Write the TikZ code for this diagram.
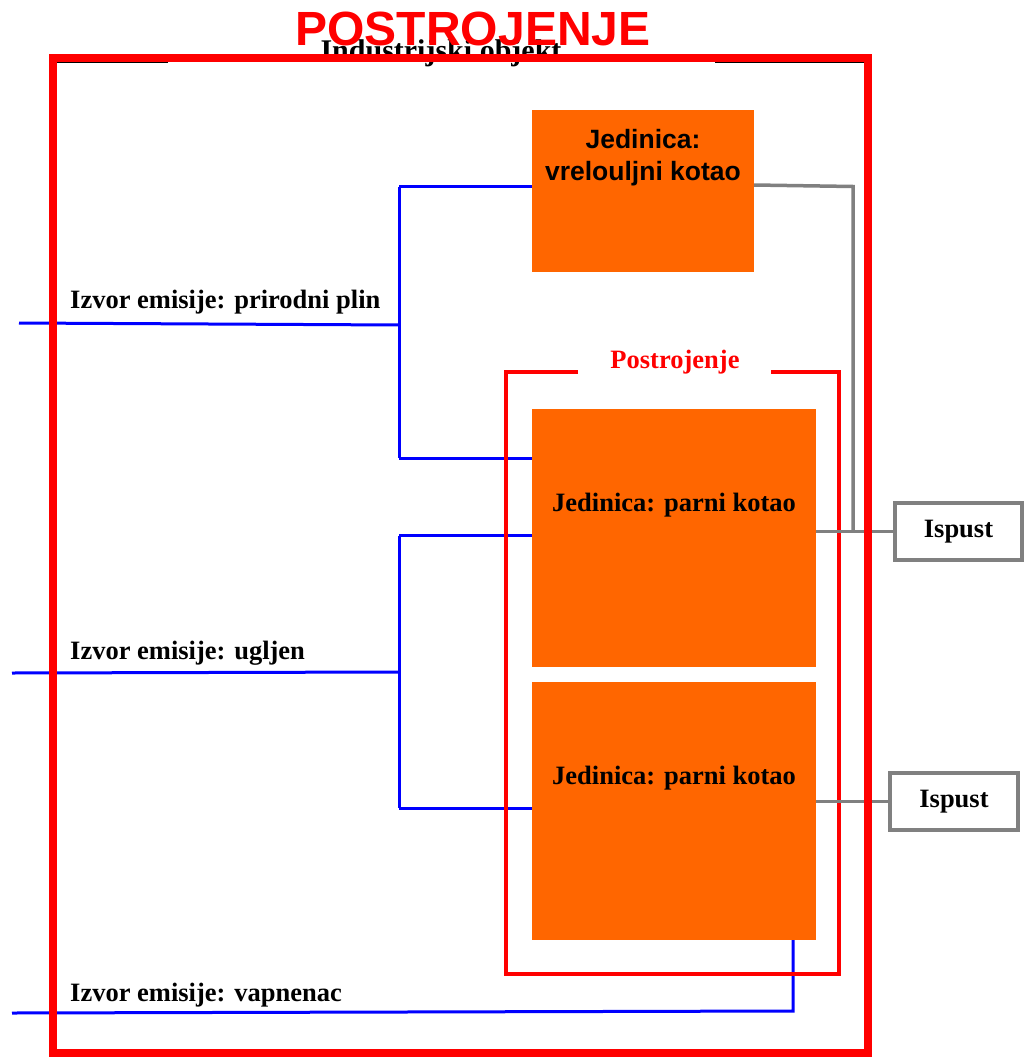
\documentclass[tikz,border=0pt]{standalone}
\usepackage{fontspec}
\setmainfont{Liberation Serif}
\newfontfamily\arialfont{Liberation Sans}
\definecolor{unitorange}{HTML}{FF6600}
\definecolor{linkblue}{HTML}{0000FF}
\definecolor{ventgray}{HTML}{808080}
\definecolor{framered}{HTML}{FF0000}
\begin{document}
\begin{tikzpicture}[x=1pt,y=-1pt,
  unitbox/.style={fill=unitorange, draw=none, inner sep=0pt, outer sep=0pt},
  serifbold/.style={font=\fontsize{26.5}{32}\selectfont\bfseries, inner sep=0pt},
  sansbold/.style={font=\arialfont\fontsize{26.5}{32}\selectfont\bfseries, inner sep=0pt},
  ventbox/.style={draw=ventgray, line width=4pt, fill=white, inner sep=0pt, outer sep=0pt, font=\fontsize{26.5}{32}\selectfont\bfseries},
  feed/.style={draw=linkblue, line width=3pt},
  vent/.style={draw=ventgray, line width=3.5pt},
  plantframe/.style={draw=framered, line width=3.5pt},
  siteframe/.style={draw=framered, line width=8pt},
  objframe/.style={draw=black, line width=1.3pt}
]
\useasboundingbox (0,0) rectangle (1025,1057);

% group frame of the industrial object (mostly hidden under the red frame)
\node[font=\fontsize{30}{34}\selectfont\bfseries, inner sep=0pt, anchor=base] (objtitle) at (441,60) {Industrijski objekt};
\draw[objframe] (168,62.3) -- (56,62.3) -- (56,1050) -- (865,1050) -- (865,62.3) -- (715,62.3);

% units
\node[unitbox, minimum width=222pt, minimum height=162pt] (u1) at (643,191) {};
\node[unitbox, minimum width=284pt, minimum height=258pt] (u2) at (674,538) {};
\node[unitbox, minimum width=284pt, minimum height=258pt] (u3) at (674,811) {};
\node[sansbold, align=center, anchor=north] (u1text) at (643,129) {Jedinica:\\vrelouljni kotao};
\node[serifbold, anchor=base] (u2text) at (674,511) {Jedinica: parni kotao};
\node[serifbold, anchor=base] (u3text) at (674,784) {Jedinica: parni kotao};

% emission points
\node[ventbox, minimum width=127pt, minimum height=57pt] (isp1) at (958.5,531.5) {Ispust};
\node[ventbox, minimum width=128pt, minimum height=57pt] (isp2) at (954,801.5) {Ispust};

% emission sources labels
\node[serifbold, anchor=base west] (srcgas) at (70,308) {Izvor emisije: prirodni plin};
\node[serifbold, anchor=base west] (srccoal) at (70,659) {Izvor emisije: ugljen};
\node[serifbold, anchor=base west] (srclime) at (70,1001) {Izvor emisije: vapnenac};

% coordinates for connectors
\coordinate (gasin) at (19,323);
\coordinate (gasj) at (399,325);
\coordinate (gastop) at (399,186.5);
\coordinate (gasbot) at (399,458);
\coordinate (coalin) at (12,673);
\coordinate (coalj) at (399,672);
\coordinate (coaltop) at (399,535.5);
\coordinate (coalbot) at (399,808);
\coordinate (limein) at (12,1013);
\coordinate (limej) at (793,1011);
\coordinate (ventj) at (853,186.5);
\coordinate (ventb) at (853,531.5);

% blue feed lines
\draw[feed] (gasin) -- (gasj);
\draw[feed] (gastop) -- (gasbot);
\draw[feed] (gastop) -- (gastop -| u1.west);
\draw[feed] (gasbot) -- (gasbot -| u2.west);
\draw[feed] (coalin) -- (coalj);
\draw[feed] (coaltop) -- (coalbot);
\draw[feed] (coaltop) -- (coaltop -| u2.west);
\draw[feed] (coalbot) -- (coalbot -| u3.west);
\draw[feed] (limein) -- (limej) -- (limej |- u3.south);

% plant frame
\draw[plantframe] (578,372) -- (506,372) -- (506,974) -- (839,974) -- (839,372) -- (771,372);
\node[serifbold, text=framered, anchor=base] (planttitle) at (675,368) {Postrojenje};

% gray vent lines
\draw[vent] (u1.east |- 0,185) -- (ventj) -- (ventb);
\draw[vent] (u2.east |- ventb) -- (isp1.west);
\draw[vent] (u3.east |- isp2.west) -- (isp2.west);

% outer red frame
\draw[siteframe] (52.5,58) rectangle (868,1053);

\node[font=\arialfont\fontsize{48}{52}\selectfont\bfseries, text=framered, inner sep=0pt, anchor=base] (sitetitle) at (473,46) {POSTROJENJE};
\end{tikzpicture}
\end{document}
